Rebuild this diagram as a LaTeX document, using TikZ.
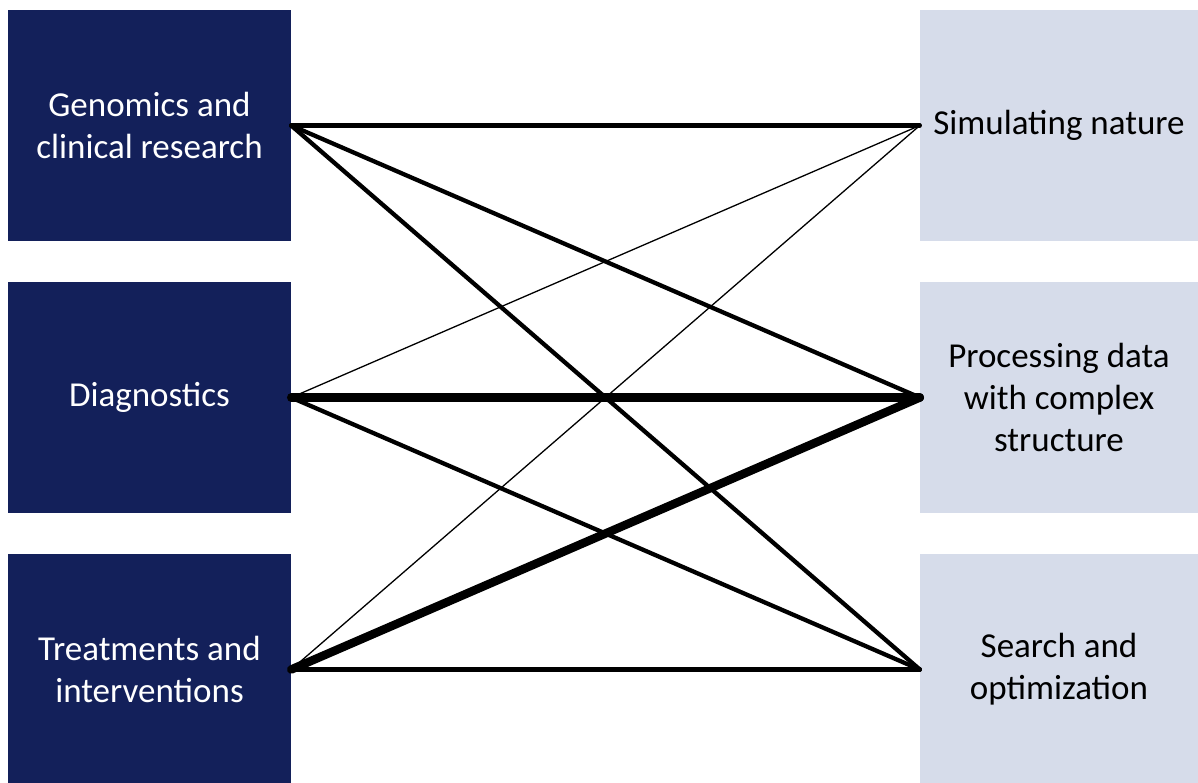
\documentclass[tikz,border=0pt]{standalone}
\usepackage{fontspec}
\setmainfont{Carlito}
\definecolor{navy}{RGB}{19,32,90}
\definecolor{pale}{RGB}{214,220,234}
\begin{document}
\begin{tikzpicture}[x=1pt,y=-1pt,
  lbox/.style={fill=navy,text=white,minimum width=283pt,minimum height=231pt,inner sep=0pt,align=center,font=\fontsize{35}{42}\selectfont},
  rbox/.style={fill=pale,text=black,minimum width=278pt,minimum height=231pt,inner sep=0pt,align=center,font=\fontsize{35}{42}\selectfont},
  link/.style={draw=black,line width=4.3pt,line cap=round},
  thinlink/.style={draw=black,line width=1.3pt},
  heavylink/.style={draw=black,line width=8.5pt,line cap=round}]
\useasboundingbox (0,0) rectangle (1198,782);
\node[lbox] (g) at (149.5,125.5) {Genomics and\\clinical research};
\node[lbox] (d) at (149.5,397.5) {Diagnostics};
\node[lbox] (t) at (149.5,669.5) {Treatments and\\interventions};
\node[rbox] (s) at (1059,125.5) {Simulating nature};
\node[rbox] (p) at (1059,397.5) {Processing data\\with complex\\structure};
\node[rbox] (o) at (1059,669.5) {Search and\\optimization};
\draw[link] (g.east) -- (s.west);
\draw[link] (g.east) -- (p.west);
\draw[link] (g.east) -- (o.west);
\draw[thinlink] (d.east) -- (s.west);
\draw[heavylink] (d.east) -- (p.west);
\draw[link] (d.east) -- (o.west);
\draw[thinlink] (t.east) -- (s.west);
\draw[heavylink] (t.east) -- (p.west);
\draw[link] (t.east) -- (o.west);
\end{tikzpicture}
\end{document}
